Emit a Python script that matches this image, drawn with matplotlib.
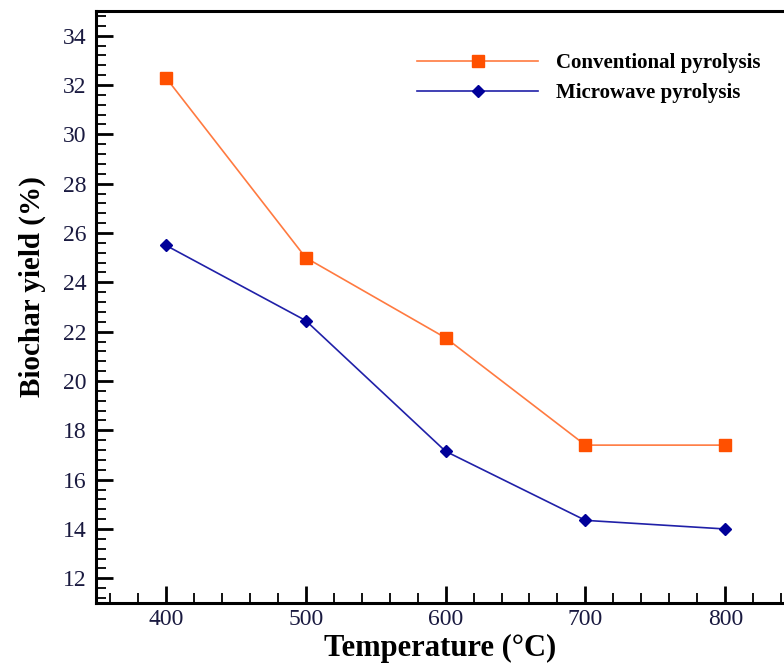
import matplotlib
matplotlib.use('Agg')
from matplotlib import pyplot as plt
from matplotlib.ticker import MultipleLocator

plt.rcParams['font.family'] = ['Liberation Serif', 'DejaVu Serif']

# Data
temperature = [400, 500, 600, 700, 800]
conventional = [32.3, 25.0, 21.75, 17.4, 17.4]
microwave = [25.5, 22.45, 17.15, 14.35, 14.0]

fig = plt.figure(figsize=(7.84, 6.64), dpi=100)
ax = fig.add_axes([0.1224, 0.0919, 0.8776, 0.8915])

ax.plot(temperature, conventional, color='#FF7A40', lw=1.2, marker='s', ms=8,
        mfc='#FF5000', mec='#FF5000', label='Conventional pyrolysis')
ax.plot(temperature, microwave, color='#2020A8', lw=1.2, marker='D', ms=6.5,
        mfc='#000099', mec='#000099', label='Microwave pyrolysis')

ax.set_xlim(350, 842)
ax.set_ylim(11, 35)
ax.xaxis.set_major_locator(MultipleLocator(100))
ax.xaxis.set_minor_locator(MultipleLocator(20))
ax.yaxis.set_major_locator(MultipleLocator(2))
ax.yaxis.set_minor_locator(MultipleLocator(0.4))

ax.spines['right'].set_visible(False)
for s in ['left', 'bottom', 'top']:
    ax.spines[s].set_linewidth(2.2)

ax.tick_params(which='major', direction='in', length=12, width=2, labelsize=17,
               labelcolor='#1a1a40', pad=7)
ax.tick_params(axis='x', which='major', pad=4)
ax.tick_params(which='minor', direction='in', length=7, width=1.3)
ax.tick_params(top=False, right=False)

ax.set_xlabel('Temperature (\u00b0C)', fontsize=22, fontweight='bold')
ax.xaxis.set_label_coords(0.5, -0.053)
ax.set_ylabel('Biochar yield (%)', fontsize=21, fontweight='bold')
ax.yaxis.set_label_coords(-0.073, 0.535)

leg = ax.legend(loc='upper left', bbox_to_anchor=(0.44, 0.96), frameon=False,
                handlelength=5.8, handletextpad=0.85, labelspacing=0.45,
                prop={'size': 15, 'weight': 'bold'})

fig.savefig('out.png', dpi=100)
